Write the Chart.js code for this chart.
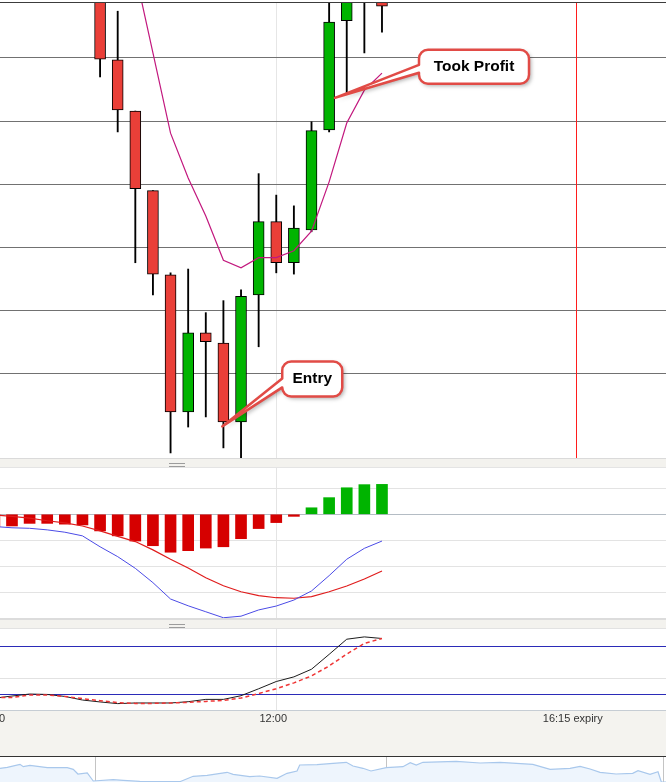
<!DOCTYPE html>
<html>
<head>
<meta charset="utf-8">
<script src="https://cdn.jsdelivr.net/npm/chart.js@4.4.1/dist/chart.umd.min.js"></script>
<style>
  html, body { margin: 0; padding: 0; background: #fff; }
  #wrap { position: relative; width: 666px; height: 782px; overflow: hidden; }
  .pane { position: absolute; left: 0; width: 666px; }
  .pane canvas { display: block; }
  .sep { position: absolute; left: 0; width: 666px; box-sizing: border-box; background: #f3f2ee; }
  .grip { position: absolute; left: 169px; width: 16px; height: 4px; box-sizing: border-box;
          border-top: 1px solid #9c9c9c; border-bottom: 1px solid #9c9c9c; }
</style>
</head>
<body>
<div id="wrap">
  <div class="pane" style="top:2px;height:1px;background:#3c3c3c"></div>
  <div class="pane" style="top:3px;height:455px"><canvas id="main" width="666" height="455"></canvas></div>
  <div class="sep" style="top:458px;height:10px;border-top:1px solid #dadada;border-bottom:1px solid #e4e4e4">
    <div class="grip" style="top:4px"></div>
  </div>
  <div class="pane" style="top:468px;height:150px"><canvas id="macd" width="666" height="150"></canvas></div>
  <div class="sep" style="top:618px;height:11px;border-top:2px solid #dcdcdc;border-bottom:1px solid #e2e2e2">
    <div class="grip" style="top:4px"></div>
  </div>
  <div class="pane" style="top:629px;height:127px;background:#f4f3ef"><canvas id="stoch" width="666" height="127"></canvas></div>
  <div class="pane" style="top:756px;height:1px;background:#333"></div>
  <div class="pane" style="top:757px;height:25px"><canvas id="nav" width="666" height="25"></canvas></div>
</div>
<script>
(() => {
    // 15 minute bars
    const times = ['08:00', '08:15', '08:30', '08:45', '09:00', '09:15', '09:30', '09:45', '10:00', '10:15', '10:30', '10:45',
        '11:00', '11:15', '11:30', '11:45', '12:00', '12:15', '12:30', '12:45', '13:00', '13:15', '13:30'];

    // price in pips above an arbitrary base (earlier bars are above the visible range)
    const priceOpen = [null, null, null, null, null, null, 71.6, 59.7, 51.6, 39.0, 25.7, 4.0, 16.5, 14.9, 2.4, 22.5, 34.1, 27.6, 32.8, 48.6, 65.9, 70.0, 71.6];
    const priceClose = [null, null, null, null, null, null, 59.8, 51.8, 39.3, 25.8, 4.0, 16.5, 15.1, 2.4, 22.3, 34.1, 27.6, 33.1, 48.5, 65.7, 70.8, 73.9, 68.2];
    const priceHigh = [null, null, null, null, null, null, 75.5, 67.4, 51.6, 39.0, 26.0, 26.6, 19.7, 21.6, 23.3, 41.7, 38.3, 36.6, 49.9, 70.0, 73.1, 75.5, 72.3];
    const priceLow = [null, null, null, null, null, null, 57.0, 48.3, 27.6, 22.5, -2.5, 1.6, 3.2, -1.7, -4.0, 14.3, 26.0, 25.8, 32.5, 48.3, 54.5, 60.8, 64.1];
    const movingAvg = [null, null, null, null, null, null, null, null, 73.5, 60.8, 48.1, 41.0, 35.0, 28.0, 26.8, 28.4, 28.4, 29.5, 32.6, 40.4, 49.7, 54.9, 57.6];
    const priceGrid = [10, 20, 30, 40, 50, 60];

    const macdHist = [-0.48, -0.45, -0.35, -0.35, -0.38, -0.41, -0.64, -0.83, -1.03, -1.21, -1.46, -1.40, -1.30, -1.25, -0.94, -0.55, -0.32, -0.08, 0.25, 0.64, 1.02, 1.14, 1.15];
    const macdLine = [-0.47, -0.52, -0.54, -0.60, -0.69, -0.83, -1.25, -1.63, -2.08, -2.63, -3.26, -3.52, -3.75, -3.98, -3.92, -3.68, -3.53, -3.30, -2.95, -2.36, -1.73, -1.31, -1.03];
    const macdSignal = [-0.03, -0.08, -0.15, -0.25, -0.33, -0.45, -0.64, -0.85, -1.05, -1.37, -1.73, -2.07, -2.44, -2.75, -2.98, -3.13, -3.21, -3.23, -3.17, -2.98, -2.76, -2.49, -2.18];
    const macdGrid = [1, 0, -1, -2, -3];

    const stochK = [14.8, 17.5, 20.0, 19.5, 17.0, 12.5, 10.1, 8.0, 8.8, 8.8, 8.8, 10.4, 13.3, 13.3, 17.9, 26.6, 35.7, 41.5, 51.1, 69.7, 88.7, 91.6, 89.6];
    const stochD = [15.7, 15.8, 18.8, 18.8, 17.0, 14.2, 11.7, 9.2, 8.3, 8.3, 8.8, 9.6, 10.8, 12.0, 15.0, 20.7, 26.6, 34.0, 42.7, 55.2, 70.1, 83.4, 89.6];
    const stochLevels = [20, 40, 80];

    const tickTimes = ['08:00', '12:00', '16:15'];
    const tickLabels = ['08:00', '12:00', '16:15 expiry'];
    const expiryTime = '16:15';

    const calloutText = ['Took Profit', 'Entry'];
    const calloutTime = ['12:50', '11:14'];
    const calloutPrice = [53.7, 1.7];

    // navigator (whole history, 0-100 %)
    const navT = [0, 1.1, 3.0, 3.5, 4.5, 7.1, 10.1, 11.0, 11.7, 13.1, 14.0, 17.0, 18.5, 21.0, 27.0, 29.0, 31.1, 34.1, 35.0, 37.5, 39.0, 41.6, 43.1, 44.6, 45.0,
        47.6, 50.0, 52.0, 53.0, 54.5, 55.7, 58.0, 60.5, 61.6, 62.5, 63.5, 68.5, 72.1, 75.1, 80.0, 82.6, 85.6, 87.1, 88.6, 90.1, 92.5, 95.0, 95.8, 97.6, 98.8, 99.3, 100];
    const navV = [13.7, 14.7, 17.7, 15.3, 16.7, 14.3, 14.3, 12.7, 8.0, 9.0, 1.0, 2.3, 1.7, 0.7, 0.3, 5.7, 6.7, 9.7, 7.7, 5.3, 6.0, 3.7, 8.7, 11.0, 17.0,
        17.3, 18.7, 19.7, 16.0, 13.7, 11.0, 14.3, 15.3, 19.3, 17.0, 19.7, 20.7, 19.0, 19.7, 17.7, 12.7, 13.7, 15.7, 13.0, 9.7, 8.0, 8.7, 11.3, 7.7, 10.3, 0, 0];
    const navMarks = [14.3, 58.0, 99.6];

    Chart.defaults.font.family = '"Liberation Sans", Arial, sans-serif';

    const toMin = t => {
        const [h, m] = t.split(':').map(Number);
        return h * 60 + m;
    };
    const xs = times.map(toMin);
    const xMin = 484.8, xMax = 1051.8;

    const series = arr => xs.map((x, i) => ({x, y: arr[i]})).filter(p => p.y !== null);
    const candleIdx = xs.map((x, i) => i).filter(i => priceOpen[i] !== null);

    const hiddenAxis = (extra) => Object.assign({
            ticks: {display: false},
            border: {display: false}
        }, extra);

    const xAxis = (gridTimes, color) => hiddenAxis({
            type: 'linear', min: xMin, max: xMax, offset: false,
            grid: {drawTicks: false, offset: false, color},
            afterBuildTicks: s => { s.ticks = gridTimes.map(t => ({value: toMin(t)})); }
        });

    const baseOptions = (scales, padding) => ({
            animation: false,
            responsive: false,
            layout: {padding: padding || 0},
            plugins: {legend: {display: false}, tooltip: {enabled: false}},
            scales
        });

    // red expiry marker on the price pane
    const expiryPlugin = {
        id: 'expiry',
        beforeDatasetsDraw(chart) {
            const {ctx, chartArea: a, scales: {x}} = chart;
            const px = Math.round(x.getPixelForValue(toMin(expiryTime))) + 0.5;
            ctx.save();
            ctx.strokeStyle = '#ff1c1c';
            ctx.lineWidth = 1;
            ctx.beginPath();
            ctx.moveTo(px, a.top);
            ctx.lineTo(px, a.bottom);
            ctx.stroke();
            ctx.restore();
        }
    };

    // speech-bubble callouts on the price pane
    const callouts = [
        {dx: 84, dy: -48, w: 110, h: 34, b1: 15, b2: 23},
        {dx: 60, dy: -65, w: 60, h: 35, b1: 17, b2: 26}
    ];
    const calloutPlugin = {
        id: 'callouts',
        afterDatasetsDraw(chart) {
            const {ctx, scales: {x, y}} = chart;
            callouts.forEach((c, i) => {
                const tx = x.getPixelForValue(toMin(calloutTime[i]));
                const ty = y.getPixelForValue(calloutPrice[i]);
                const left = tx + c.dx, top = ty + c.dy, right = left + c.w, bottom = top + c.h, r = 9;
                ctx.save();
                ctx.beginPath();
                ctx.moveTo(left + r, top);
                ctx.lineTo(right - r, top);
                ctx.arcTo(right, top, right, top + r, r);
                ctx.lineTo(right, bottom - r);
                ctx.arcTo(right, bottom, right - r, bottom, r);
                ctx.lineTo(left + r, bottom);
                ctx.arcTo(left, bottom, left, bottom - r, r);
                ctx.lineTo(left, top + c.b2);
                ctx.lineTo(tx, ty);
                ctx.lineTo(left, top + c.b1);
                ctx.lineTo(left, top + r);
                ctx.arcTo(left, top, left + r, top, r);
                ctx.closePath();
                ctx.shadowColor = 'rgba(0,0,0,0.35)';
                ctx.shadowBlur = 4;
                ctx.shadowOffsetX = 2;
                ctx.shadowOffsetY = 2;
                ctx.fillStyle = '#fff';
                ctx.fill();
                ctx.shadowColor = 'transparent';
                ctx.lineJoin = 'round';
                ctx.lineWidth = 2.5;
                ctx.strokeStyle = '#e14b46';
                ctx.stroke();
                ctx.fillStyle = '#000';
                ctx.font = 'bold 15.5px "Liberation Sans", Arial, sans-serif';
                ctx.textAlign = 'center';
                ctx.textBaseline = 'middle';
                ctx.fillText(calloutText[i], left + c.w / 2, top + c.h / 2);
                ctx.restore();
            });
        }
    };

    new Chart(document.getElementById('main'), {
        type: 'bar',
        data: {
            datasets: [{
                    type: 'line',
                    data: series(movingAvg),
                    borderColor: '#c2187e',
                    borderWidth: 1.2,
                    pointRadius: 0,
                    order: 0
                }, {
                    data: candleIdx.map(i => ({x: xs[i], y: [priceOpen[i], priceClose[i]]})),
                    backgroundColor: candleIdx.map(i => priceClose[i] > priceOpen[i] ? '#00b400' : '#ea3f38'),
                    borderColor: '#000',
                    borderWidth: 1,
                    borderSkipped: false,
                    barThickness: 11,
                    grouped: false,
                    clip: 0,
                    order: 1
                }, {
                    data: candleIdx.map(i => ({x: xs[i], y: [priceLow[i], priceHigh[i]]})),
                    backgroundColor: '#000',
                    borderWidth: 0,
                    barThickness: 1.2,
                    grouped: false,
                    clip: 0,
                    order: 2
                }]
        },
        options: baseOptions({
            x: xAxis(['12:00'], '#e6e6e6'),
            y: hiddenAxis({
                min: -3.3, max: 68.7,
                grid: {drawTicks: false, color: '#717171'},
                afterBuildTicks: s => { s.ticks = priceGrid.map(v => ({value: v})); }
            })
        }),
        plugins: [expiryPlugin, calloutPlugin]
    });

    new Chart(document.getElementById('macd'), {
        type: 'bar',
        data: {
            datasets: [{
                    type: 'line',
                    data: series(macdLine),
                    borderColor: '#4b4be6',
                    borderWidth: 1,
                    pointRadius: 0,
                    order: 0
                }, {
                    type: 'line',
                    data: series(macdSignal),
                    borderColor: '#e01c1c',
                    borderWidth: 1.2,
                    pointRadius: 0,
                    order: 0
                }, {
                    data: series(macdHist),
                    backgroundColor: macdHist.map(v => v >= 0 ? '#00b400' : '#d60000'),
                    barThickness: 11,
                    grouped: false,
                    order: 1
                }]
        },
        options: baseOptions({
            x: xAxis(['12:00'], '#e4e4e4'),
            y: hiddenAxis({
                min: -3.99, max: 1.78,
                grid: {drawTicks: false, color: macdGrid.map(v => v === 0 ? '#b4bcc4' : '#e3e3e3')},
                afterBuildTicks: s => { s.ticks = macdGrid.map(v => ({value: v})); }
            })
        })
    });

    const stripPlugin = {
        id: 'strip',
        beforeDraw(chart) {
            const {ctx, chartArea: a} = chart;
            ctx.save();
            ctx.fillStyle = '#fff';
            ctx.fillRect(a.left, a.top, a.right - a.left, a.bottom - a.top);
            ctx.restore();
        },
        afterDraw(chart) {
            const {ctx, chartArea: a, scales: {x}} = chart;
            ctx.save();
            ctx.strokeStyle = '#c6cdd4';
            ctx.lineWidth = 1;
            ctx.beginPath();
            ctx.moveTo(0, a.bottom + 0.5);
            ctx.lineTo(chart.width, a.bottom + 0.5);
            ctx.stroke();
            ctx.font = '11px "Liberation Sans", Arial, sans-serif';
            ctx.fillStyle = '#333';
            ctx.textAlign = 'center';
            ctx.textBaseline = 'top';
            tickTimes.forEach((t, i) => ctx.fillText(tickLabels[i], x.getPixelForValue(toMin(t)) - 3, a.bottom + 3));
            ctx.restore();
        }
    };

    new Chart(document.getElementById('stoch'), {
        type: 'line',
        data: {
            datasets: [{
                    data: series(stochD),
                    borderColor: '#ef3535',
                    borderWidth: 1.5,
                    borderDash: [4, 3],
                    pointRadius: 0,
                    order: 0
                }, {
                    data: series(stochK),
                    borderColor: '#1c1c1c',
                    borderWidth: 1,
                    pointRadius: 0,
                    order: 1
                }]
        },
        options: baseOptions({
            x: xAxis(['12:00'], '#e4e4e4'),
            y: hiddenAxis({
                min: 0, max: 101.5,
                grid: {drawTicks: false, color: stochLevels.map(v => v === 40 ? '#e2e2e2' : '#2b2bb8')},
                afterBuildTicks: s => { s.ticks = stochLevels.map(v => ({value: v})); }
            })
        }, {bottom: 46}),
        plugins: [stripPlugin]
    });

    new Chart(document.getElementById('nav'), {
        type: 'line',
        data: {
            datasets: [{
                    data: navT.map((t, i) => ({x: t, y: navV[i]})),
                    borderColor: '#a9c8ec',
                    borderWidth: 1.2,
                    backgroundColor: '#eef5fd',
                    fill: 'start',
                    pointRadius: 0
                }]
        },
        options: baseOptions({
            x: hiddenAxis({
                type: 'linear', min: 0, max: 100,
                grid: {drawTicks: false, color: '#c4c4c4'},
                afterBuildTicks: s => { s.ticks = navMarks.map(v => ({value: v})); }
            }),
            y: {display: false, min: 0, max: 25}
        })
    });
})();
</script>
</body>
</html>
